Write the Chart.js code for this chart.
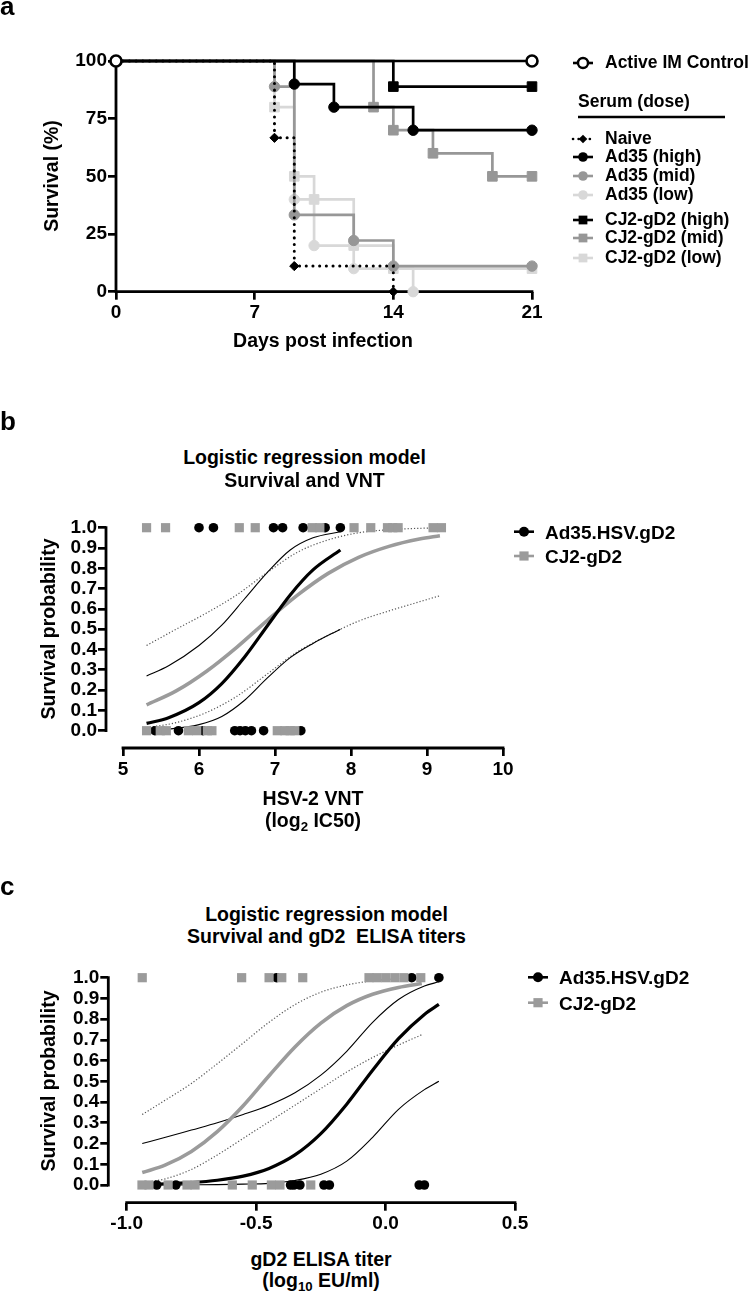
<!DOCTYPE html>
<html><head><meta charset="utf-8">
<script src="https://cdn.jsdelivr.net/npm/chart.js@4.4.1/dist/chart.umd.min.js"></script>
<style>
html,body{margin:0;padding:0;background:#fff;}
#root{position:relative;width:750px;height:1296px;overflow:hidden;background:#fff;font-family:'Liberation Sans',Arial,Helvetica,sans-serif;font-weight:bold;color:#000;}
.t{position:absolute;line-height:1;white-space:pre;}
canvas{position:absolute;left:0;}
.sb{font-size:0.68em;vertical-align:-0.28em;line-height:0;}
</style></head>
<body><div id="root">
<canvas id="ca" width="750" height="330" style="top:0px"></canvas>
<canvas id="cb" width="750" height="310" style="top:490px"></canvas>
<canvas id="cc" width="750" height="290" style="top:950px"></canvas>
</div>
<script>
// ---------------- Panel a data (Kaplan-Meier) ----------------
const aDayTicks = [0, 7, 14, 21];
const aSurvTicks = [0, 25, 50, 75, 100];
const aLabels = ['Active IM Control', 'Naive', 'Ad35 (high)', 'Ad35 (mid)', 'Ad35 (low)', 'CJ2-gD2 (high)', 'CJ2-gD2 (mid)', 'CJ2-gD2 (low)'];
const activeDays = [0, 21];               const activeSurv = [100, 100];
const naiveDays = [0, 8, 9, 14];           const naiveSurv = [100, 66.7, 11.1, 0];
const ad35HighDays = [0, 9, 11, 15, 21];   const ad35HighSurv = [100, 90, 80, 70, 70];
const ad35MidDays = [0, 8, 9, 12, 14, 21]; const ad35MidSurv = [100, 88.9, 33.3, 22.2, 11.1, 11.1];
const ad35LowDays = [0, 9, 10, 12, 15];    const ad35LowSurv = [100, 40, 20, 10, 0];
const cjHighDays = [0, 14, 21];            const cjHighSurv = [100, 88.9, 88.9];
const cjMidDays = [0, 13, 14, 16, 19, 21]; const cjMidSurv = [100, 80, 70, 60, 50, 50];
const cjLowDays = [0, 8, 9, 10, 12, 14, 21]; const cjLowSurv = [100, 80, 50, 40, 20, 10, 10];

// ---------------- Panel b data (VNT) ----------------
const bXTicks = [5, 6, 7, 8, 9, 10];
const bYTicks = [0, 0.1, 0.2, 0.3, 0.4, 0.5, 0.6, 0.7, 0.8, 0.9, 1.0];
const bLabels = ['Ad35.HSV.gD2', 'CJ2-gD2'];
const bAdSurvived = [6.00, 6.19, 6.98, 7.10, 7.37, 7.66, 7.86];
const bAdDied = [5.42, 5.73, 6.05, 6.47, 6.54, 6.61, 6.69, 6.85, 7.34];
const bCjSurvived = [5.31, 5.56, 6.53, 6.74, 7.49, 7.59, 8.04, 8.26, 8.48, 8.55, 8.62, 9.08, 9.19];
const bCjDied = [5.31, 5.49, 5.57, 5.86, 5.97, 6.11, 6.17, 7.03, 7.13, 7.20, 7.26];
const bAdCurveX = [5.31, 5.6, 6.0, 6.3, 6.6, 6.9, 7.2, 7.5, 7.86];
const bAdFit   = [0.036, 0.064, 0.138, 0.232, 0.363, 0.517, 0.669, 0.792, 0.890];
const bAdUpper = [0.27, 0.32, 0.42, 0.52, 0.65, 0.78, 0.89, 0.95, 0.98];
const bAdLower = [0.002, 0.008, 0.03, 0.07, 0.15, 0.26, 0.36, 0.43, 0.50];
const bCjCurveX = [5.31, 5.7, 6.1, 6.5, 6.9, 7.3, 7.7, 8.1, 8.5, 8.9, 9.17];
const bCjFit   = [0.127, 0.196, 0.293, 0.412, 0.544, 0.669, 0.775, 0.854, 0.908, 0.944, 0.960];
const bCjUpper = [0.42, 0.50, 0.58, 0.67, 0.78, 0.88, 0.94, 0.975, 0.99, 0.997, 0.999];
const bCjLower = [0.015, 0.04, 0.09, 0.17, 0.28, 0.39, 0.47, 0.54, 0.59, 0.635, 0.665];

// ---------------- Panel c data (ELISA) ----------------
const cXTicks = [-1.0, -0.5, 0.0, 0.5];
const cYTicks = [0, 0.1, 0.2, 0.3, 0.4, 0.5, 0.6, 0.7, 0.8, 0.9, 1.0];
const cAdSurvived = [-0.421, 0.101, 0.206];
const cAdDied = [-0.884, -0.81, -0.367, -0.354, -0.331, -0.238, -0.217, 0.13, 0.15];
const cCjSurvived = [-0.940, -0.556, -0.450, -0.401, -0.320, -0.064, -0.033, 0.001, 0.036, 0.071, 0.136];
const cCjDied = [-0.941, -0.914, -0.84, -0.767, -0.736, -0.592, -0.515, -0.441, -0.408, -0.289];
const cAdCurveX = [-0.94, -0.85, -0.75, -0.65, -0.55, -0.45, -0.35, -0.25, -0.15, -0.05, 0.05, 0.15, 0.206];
const cAdFit   = [0.003, 0.006, 0.012, 0.023, 0.043, 0.080, 0.145, 0.248, 0.39, 0.554, 0.706, 0.823, 0.871];
const cAdUpper = [0.20, 0.23, 0.265, 0.30, 0.34, 0.385, 0.445, 0.53, 0.645, 0.785, 0.895, 0.96, 0.98];
const cAdLower = [0.0, 0.0, 0.001, 0.002, 0.004, 0.008, 0.022, 0.052, 0.115, 0.23, 0.365, 0.46, 0.50];
const cCjCurveX = [-0.94, -0.85, -0.75, -0.65, -0.55, -0.45, -0.35, -0.25, -0.15, -0.05, 0.05, 0.14];
const cCjFit   = [0.06, 0.097, 0.162, 0.257, 0.382, 0.527, 0.666, 0.781, 0.865, 0.92, 0.953, 0.972];
const cCjUpper = [0.34, 0.41, 0.49, 0.585, 0.685, 0.785, 0.87, 0.93, 0.965, 0.985, 0.995, 1.0];
const cCjLower = [0.01, 0.03, 0.075, 0.145, 0.225, 0.305, 0.385, 0.465, 0.545, 0.615, 0.675, 0.725];

// ---------------- helpers ----------------
const FONT = "'Liberation Sans', Arial, Helvetica, sans-serif";
Chart.defaults.font.family = FONT;
Chart.defaults.font.weight = 'bold';
Chart.defaults.color = '#000';
Chart.defaults.animation = false;

const BLACK = '#000000', MID = '#979797', LIGHT = '#d8d8d8', GRAYPT = '#9b9b9b', DOT = '#555555';
const root = document.getElementById('root');
function txt(html, x, y, size, align, rot) {
  const d = document.createElement('div');
  d.className = 't';
  d.innerHTML = html;
  d.style.fontSize = size + 'px';
  d.style.left = x + 'px';
  d.style.top = y + 'px';
  const tx = align === 'c' ? '-50%' : (align === 'r' ? '-100%' : '0');
  d.style.transform = 'translate(' + tx + ',-50%)' + (rot ? ' rotate(-90deg)' : '');
  root.appendChild(d);
}
function letter(ch, x, baseline, size) {
  const d = document.createElement('div');
  d.className = 't'; d.textContent = ch; d.style.fontSize = size + 'px';
  d.style.left = x + 'px'; d.style.top = (baseline - 0.8465 * size) + 'px';
  root.appendChild(d);
}
function pts(xs, ys) { return xs.map((x, i) => ({ x: x, y: ys[i] })); }
function flat(xs, v) { return xs.map(x => ({ x: x, y: v })); }

function drawMarker(ctx, style, x, y, r, fill, stroke, bw) {
  ctx.save();
  ctx.setLineDash([]);
  ctx.beginPath();
  if (style === 'circle') ctx.arc(x, y, r, 0, Math.PI * 2);
  else if (style === 'rect') { const s = r * Math.SQRT1_2; ctx.rect(x - s, y - s, 2 * s, 2 * s); }
  else if (style === 'rectRot') { ctx.moveTo(x, y - r); ctx.lineTo(x + r, y); ctx.lineTo(x, y + r); ctx.lineTo(x - r, y); ctx.closePath(); }
  ctx.fillStyle = fill; ctx.fill();
  if (bw) { ctx.lineWidth = bw; ctx.strokeStyle = stroke; ctx.stroke(); }
  ctx.restore();
}

function makeAxisPlugin(a) {
  return {
    id: 'axisLines',
    beforeDatasetsDraw(chart) {
      const ctx = chart.ctx, ca = chart.chartArea, xs = chart.scales.x, ys = chart.scales.y;
      ctx.save();
      ctx.setLineDash([]);
      ctx.strokeStyle = '#000'; ctx.lineWidth = a.w; ctx.lineCap = 'square';
      ctx.beginPath();
      ctx.moveTo(ca.left, ys.getPixelForValue(a.y1));
      ctx.lineTo(ca.left, ys.getPixelForValue(a.y0));
      ctx.moveTo(xs.getPixelForValue(a.x0), ca.bottom);
      ctx.lineTo(xs.getPixelForValue(a.x1), ca.bottom);
      ctx.stroke();
      ctx.restore();
    }
  };
}
function makeLegendPlugin(items, rule) {
  return {
    id: 'legendMarks',
    afterDraw(chart) {
      const ctx = chart.ctx;
      items.forEach(it => {
        ctx.save();
        ctx.strokeStyle = it.color; ctx.lineWidth = it.lw;
        if (it.dash) { ctx.setLineDash(it.dash); ctx.lineCap = 'round'; } else { ctx.setLineDash([]); ctx.lineCap = 'butt'; }
        ctx.beginPath(); ctx.moveTo(it.x0, it.y); ctx.lineTo(it.x1, it.y); ctx.stroke();
        ctx.restore();
        drawMarker(ctx, it.style, it.cx, it.y, it.r, it.fill || it.color, it.color, it.bw || 0);
      });
      if (rule) {
        ctx.save(); ctx.setLineDash([]); ctx.strokeStyle = '#000'; ctx.lineWidth = rule.w;
        ctx.beginPath(); ctx.moveTo(rule.x0, rule.y); ctx.lineTo(rule.x1, rule.y); ctx.stroke(); ctx.restore();
      }
    }
  };
}

function scales(xMin, xMax, xTicks, xFmt, yMin, yMax, yTicks, yFmt, yW, xH) {
  const tf = { family: FONT, size: 19, weight: 'bold' };
  return {
    x: {
      type: 'linear', min: xMin, max: xMax,
      afterBuildTicks: s => { s.ticks = xTicks.map(v => ({ value: v })); },
      afterFit: s => { s.height = xH; },
      ticks: { font: tf, color: '#000', padding: 2, maxRotation: 0, minRotation: 0, autoSkip: false, callback: v => xFmt(v) },
      grid: { drawOnChartArea: false, drawTicks: true, tickLength: 8, lineWidth: 2.7, color: '#000' },
      border: { display: false }
    },
    y: {
      type: 'linear', min: yMin, max: yMax,
      afterBuildTicks: s => { s.ticks = yTicks.map(v => ({ value: v })); },
      afterFit: s => { s.width = yW; },
      ticks: { font: tf, color: '#000', padding: 1, autoSkip: false, callback: v => yFmt(v) },
      grid: { drawOnChartArea: false, drawTicks: true, tickLength: 8, lineWidth: 2.7, color: '#000' },
      border: { display: false }
    }
  };
}

// ---------------- Panel a ----------------
function km(label, days, surv, color, style, r, extra) {
  return Object.assign({
    label: label, data: pts(days, surv), stepped: true, showLine: true,
    borderColor: color, backgroundColor: color, pointBackgroundColor: color, pointBorderColor: color,
    borderWidth: 2.7, pointStyle: style, pointRadius: days.map((d, i) => i === 0 ? 0 : r),
    pointBorderWidth: 1, pointHoverRadius: 0, clip: false, fill: false
  }, extra || {});
}
const aSets = [
  km(aLabels[0], activeDays, activeSurv, BLACK, 'circle', 5.5, { pointRadius: [5.5, 5.5], pointBackgroundColor: '#fff', pointBorderWidth: 2.6 }),
  km(aLabels[1], naiveDays, naiveSurv, BLACK, 'rectRot', 4.6, { borderDash: [0.1, 6.6], borderCapStyle: 'round', borderWidth: 3 }),
  km(aLabels[2], ad35HighDays, ad35HighSurv, BLACK, 'circle', 5.2),
  km(aLabels[5], cjHighDays, cjHighSurv, BLACK, 'rect', 6.8),
  km(aLabels[3], ad35MidDays, ad35MidSurv, MID, 'circle', 5.2),
  km(aLabels[6], cjMidDays, cjMidSurv, MID, 'rect', 6.8),
  km(aLabels[4], ad35LowDays, ad35LowSurv, LIGHT, 'circle', 5.2),
  km(aLabels[7], cjLowDays, cjLowSurv, LIGHT, 'rect', 6.8)
];
const aLegY = [63, 139, 157, 176, 195, 220, 238, 258];
const aLegStyle = [
  { style: 'circle', color: BLACK, fill: '#fff', bw: 2.4, r: 5 },
  { style: 'rectRot', color: BLACK, r: 4.3, dash: [0.1, 5.5] },
  { style: 'circle', color: BLACK, r: 4.8 },
  { style: 'circle', color: MID, r: 4.8 },
  { style: 'circle', color: LIGHT, r: 4.8 },
  { style: 'rect', color: BLACK, r: 6.2 },
  { style: 'rect', color: MID, r: 6.2 },
  { style: 'rect', color: LIGHT, r: 6.2 }
];
new Chart(document.getElementById('ca'), {
  type: 'scatter',
  data: { datasets: aSets },
  options: {
    responsive: false, events: [],
    layout: { padding: { top: 61, right: 218, left: 0, bottom: 0 } },
    scales: scales(0, 21, aDayTicks, v => String(v), 0, 100, aSurvTicks, v => String(v), 116, 38.3),
    plugins: { legend: { display: false }, tooltip: { enabled: false } }
  },
  plugins: [
    makeAxisPlugin({ w: 2.8, x0: 0, x1: 21, y0: 0, y1: 100 }),
    makeLegendPlugin(aLegY.map((y, i) => Object.assign({ y: y, x0: 573, x1: 593, cx: 583, lw: 2.6 }, aLegStyle[i])),
      { x0: 578, x1: 725, y: 117, w: 2.6 })
  ]
});
letter('a', 0, 15, 26);
txt('Survival (%)', 52, 176, 19.5, 'c', true);
txt('Days post infection', 323, 341, 19.5, 'c');
txt(aLabels[0], 605, 63, 17.5, 'l');
txt('Serum (dose)', 578, 102, 17.5, 'l');
for (let i = 1; i < aLabels.length; i++) txt(aLabels[i], 605, aLegY[i], 17.5, 'l');

// ---------------- Panels b, c ----------------
function scat(label, xs, yv, color, style, r) {
  return { label: label, data: flat(xs, yv), showLine: false, pointStyle: style, pointRadius: r, pointHoverRadius: 0,
    pointBackgroundColor: color, pointBorderColor: color, pointBorderWidth: 0, clip: false };
}
function curve(label, xs, ys, color, w, dash) {
  return { label: label, data: pts(xs, ys), showLine: true, pointRadius: 0, pointHoverRadius: 0, borderColor: color,
    borderWidth: w, borderDash: dash || [], cubicInterpolationMode: 'monotone', clip: false, fill: false };
}
function logisticPanel(id, top, s, legendX, legendY, legendTextX, d) {
  new Chart(document.getElementById(id), {
    type: 'scatter',
    data: { datasets: [
      scat(bLabels[1], d.cjS, 1, GRAYPT, 'rect', 6.5),
      scat(bLabels[1], d.cjD, 0, GRAYPT, 'rect', 6.5),
      scat(bLabels[0], d.adS, 1, BLACK, 'circle', 4.8),
      scat(bLabels[0], d.adD, 0, BLACK, 'circle', 4.8),
      curve('ad fit', d.adX, d.adFit, BLACK, 3.2),
      curve('cj fit', d.cjX, d.cjFit, GRAYPT, 3.6),
      curve('ad upper', d.adX, d.adUp, BLACK, 1.1),
      curve('ad lower', d.adX, d.adLo, BLACK, 1.1),
      curve('cj upper', d.cjX, d.cjUp, DOT, 1.2, [1.2, 2]),
      curve('cj lower', d.cjX, d.cjLo, DOT, 1.2, [1.2, 2])
    ] },
    options: {
      responsive: false, events: [],
      layout: { padding: s.pad },
      scales: s.scales,
      plugins: { legend: { display: false }, tooltip: { enabled: false } }
    },
    plugins: [
      makeAxisPlugin(s.axes),
      makeLegendPlugin([
        { y: legendY[0] - top, x0: legendX - 10, x1: legendX + 10, cx: legendX, lw: 2.6, style: 'circle', color: BLACK, r: 5 },
        { y: legendY[1] - top, x0: legendX - 10, x1: legendX + 10, cx: legendX, lw: 2.6, style: 'rect', color: GRAYPT, r: 6.5 }
      ], null)
    ]
  });
  txt(bLabels[0], legendTextX, legendY[0], 19, 'l');
  txt(bLabels[1], legendTextX, legendY[1], 19, 'l');
}

// Panel b
logisticPanel('cb', 490, {
  pad: { top: 37.7, right: 247, left: 0, bottom: 0 },
  scales: scales(4.7763, 10, bXTicks, v => String(v), -0.0852, 1.0, bYTicks, v => v.toFixed(1), 106, 52),
  axes: { w: 2.8, x0: 5, x1: 10, y0: 0, y1: 1 }
}, 524, [531.7, 556], 545, {
  adS: bAdSurvived, adD: bAdDied, cjS: bCjSurvived, cjD: bCjDied,
  adX: bAdCurveX, adFit: bAdFit, adUp: bAdUpper, adLo: bAdLower,
  cjX: bCjCurveX, cjFit: bCjFit, cjUp: bCjUpper, cjLo: bCjLower
});
letter('b', 0, 430, 26);
txt('Logistic regression model', 304.5, 458, 19.5, 'c');
txt('Survival and VNT', 304.5, 480.5, 19.5, 'c');
txt('Survival probability', 49, 629, 19.5, 'c', true);
txt('HSV-2 VNT', 313, 799, 19.5, 'c');
txt('(log<span class="sb">2</span> IC50)', 313, 821, 19.5, 'c');

// Panel c
logisticPanel('cc', 950, {
  pad: { top: 27.7, right: 235, left: 0, bottom: 0 },
  scales: scales(-1.0711, 0.5, cXTicks, v => v.toFixed(1), -0.0854, 1.0, cYTicks, v => v.toFixed(1), 108.3, 37.3),
  axes: { w: 2.8, x0: -1.0, x1: 0.5, y0: 0, y1: 1 }
}, 538, [977.3, 1002.7], 559, {
  adS: cAdSurvived, adD: cAdDied, cjS: cCjSurvived, cjD: cCjDied,
  adX: cAdCurveX, adFit: cAdFit, adUp: cAdUpper, adLo: cAdLower,
  cjX: cCjCurveX, cjFit: cCjFit, cjUp: cCjUpper, cjLo: cCjLower
});
letter('c', 0, 895, 26);
txt('Logistic regression model', 326.5, 915, 19.5, 'c');
txt('Survival and gD2  ELISA titers', 326.5, 937.3, 19.5, 'c');
txt('Survival probability', 49, 1081, 19.5, 'c', true);
txt('gD2 ELISA titer', 321, 1260, 19.5, 'c');
txt('(log<span class="sb">10</span> EU/ml)', 321, 1281, 19.5, 'c');
</script>
</body></html>
